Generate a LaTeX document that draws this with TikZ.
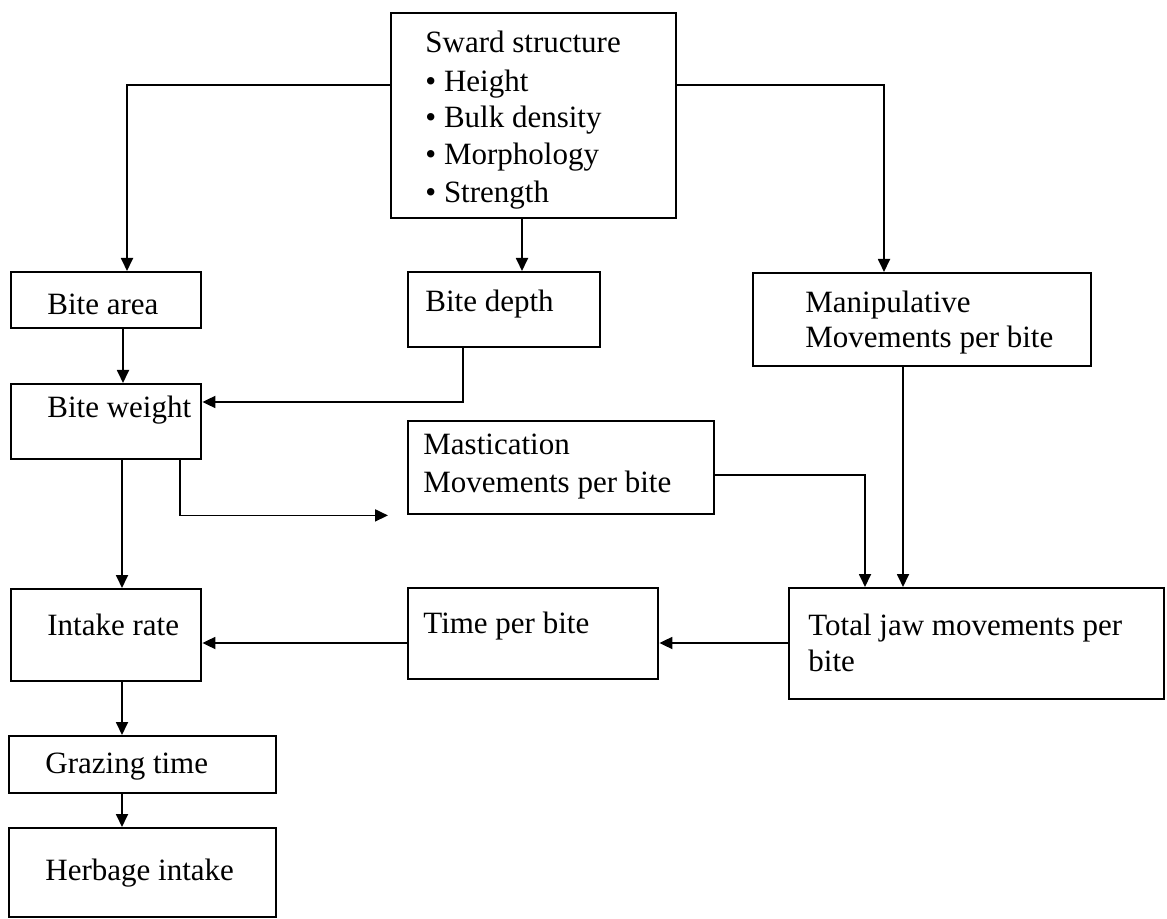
\documentclass[tikz,border=0pt]{standalone}
\usepackage{fontspec}
\setmainfont{Liberation Serif}
\usetikzlibrary{arrows.meta,calc}
\tikzset{
  box/.style={draw, line width=1.2pt, inner sep=0pt, anchor=north west},
  txt/.style={anchor=base west, inner sep=0pt, font=\fontsize{15.5}{18}\selectfont},
  conn/.style={line width=0.9pt},
  arr/.style={conn, -{Triangle[length=6.5pt,width=6pt]}}
}
\begin{document}
\begin{tikzpicture}[x=0.5pt,y=-0.5pt]
\useasboundingbox (0,0) rectangle (1167,919);
% boxes
\node[box, minimum width=142.5pt, minimum height=102.5pt] (sward) at (390,12) {};
\node[box, minimum width=95pt, minimum height=28pt] (area) at (10,271) {};
\node[box, minimum width=96pt, minimum height=37.5pt] (depth) at (407,271) {};
\node[box, minimum width=169pt, minimum height=46.5pt] (manip) at (752,272) {};
\node[box, minimum width=95pt, minimum height=37.5pt] (weight) at (10,383) {};
\node[box, minimum width=153pt, minimum height=46.5pt] (mast) at (407,420) {};
\node[box, minimum width=95pt, minimum height=46pt] (intake) at (10,588) {};
\node[box, minimum width=125pt, minimum height=45.5pt] (time) at (407,587) {};
\node[box, minimum width=187.5pt, minimum height=55.5pt] (total) at (788,587) {};
\node[box, minimum width=133.5pt, minimum height=28.5pt] (grazing) at (8,735) {};
\node[box, minimum width=133.5pt, minimum height=44.5pt] (herbage) at (8,827) {};
% texts
\node[txt] (t1) at (425,53) {Sward structure};
\node[txt] (t2) at (425,92) {\textbullet\ Height};
\node[txt] (t3) at (425,128) {\textbullet\ Bulk density};
\node[txt] (t4) at (425,165) {\textbullet\ Morphology};
\node[txt] (t5) at (425,203) {\textbullet\ Strength};
\node[txt] (t6) at (47,315) {Bite area};
\node[txt] (t7) at (425,312) {Bite depth};
\node[txt] (t8) at (805,313) {Manipulative};
\node[txt] (t9) at (805,348) {Movements per bite};
\node[txt] (t10) at (47,418) {Bite weight};
\node[txt] (t11) at (423,455) {Mastication};
\node[txt] (t12) at (423,493) {Movements per bite};
\node[txt] (t13) at (47,635) {Intake rate};
\node[txt] (t14) at (423,633) {Time per bite};
\node[txt] (t15) at (808,635) {Total jaw movements per};
\node[txt] (t16) at (808,671) {bite};
\node[txt] (t17) at (45,773) {Grazing time};
\node[txt] (t18) at (45,880) {Herbage intake};
% connection points
\coordinate (sL) at ($(sward.north west)+(0,73)$);
\coordinate (sR) at ($(sward.north east)+(0,73)$);
\coordinate (aTop) at ($(area.north west)+(117,0)$);
\coordinate (mTop) at ($(manip.north west)+(132,0)$);
\coordinate (sB) at ($(sward.south west)+(132,0)$);
\coordinate (aB) at ($(area.south west)+(113,0)$);
\coordinate (dB) at ($(depth.south west)+(56,0)$);
\coordinate (wR) at ($(weight.north east)+(0,19)$);
\coordinate (wB1) at ($(weight.south west)+(112,0)$);
\coordinate (wB2) at ($(weight.south west)+(170,0)$);
\coordinate (mastin) at ($(mast.south west)+(-19,0)$);
\coordinate (mR) at ($(mast.north east)+(0,55)$);
\coordinate (tT1) at ($(total.north west)+(77,0)$);
\coordinate (mB) at ($(manip.south west)+(151,0)$);
\coordinate (tL) at ($(total.north west)+(0,56)$);
\coordinate (iR) at ($(intake.north east)+(0,55)$);
\coordinate (iB) at ($(intake.south west)+(112,0)$);
\coordinate (gB) at ($(grazing.south west)+(114,0)$);
% connectors
\draw[arr] (sL) -| (aTop);
\draw[arr] (sB) -- (sB |- depth.north);
\draw[arr] (sR) -| (mTop);
\draw[arr] (aB) -- (aB |- weight.north);
\draw[arr] (dB) |- (wR);
\draw[arr] (wB1) -- (wB1 |- intake.north);
\draw[arr] (wB2) |- (mastin);
\draw[arr] (mR) -| (tT1);
\draw[arr] (mB) -- (mB |- total.north);
\draw[arr] (tL) -- (tL -| time.east);
\draw[arr] (iR -| time.west) -- (iR);
\draw[arr] (iB) -- (iB |- grazing.north);
\draw[arr] (gB) -- (gB |- herbage.north);
\end{tikzpicture}
\end{document}
